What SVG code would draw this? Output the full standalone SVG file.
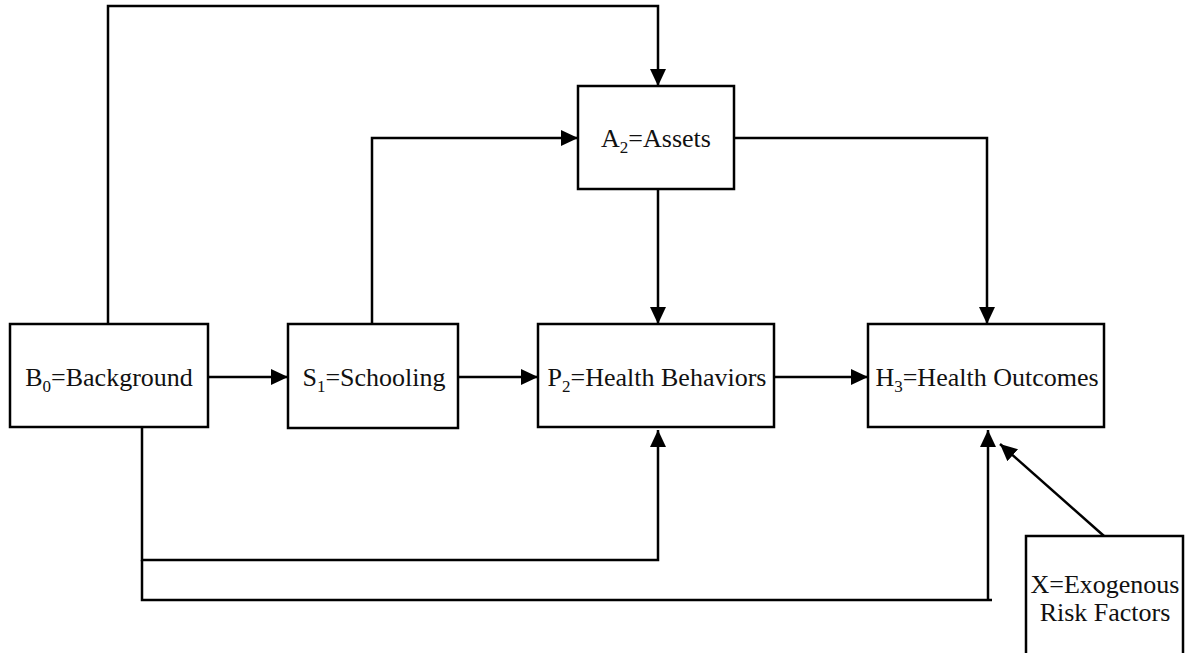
<svg xmlns="http://www.w3.org/2000/svg" width="1186" height="653" viewBox="0 0 1186 653">
<style>
.box{fill:#fff;stroke:#000;stroke-width:2.5}
.ln{fill:none;stroke:#000;stroke-width:2.5}
.t{font-family:"Liberation Serif","Times New Roman",serif;font-size:26px;fill:#111;text-anchor:middle}
.s{font-size:17px}
</style>
<defs>
<marker id="ah" markerUnits="userSpaceOnUse" markerWidth="18" markerHeight="18" viewBox="0 0 18 18" refX="17" refY="9" orient="auto">
<path d="M0,1 L17,9 L0,17 Z" fill="#000"/>
</marker>
</defs>
<g id="connectors">
<path class="ln" d="M108,324 V6 H658 V86" marker-end="url(#ah)"/>
<path class="ln" d="M372,324 V138 H578" marker-end="url(#ah)"/>
<path class="ln" d="M734,138 H987 V324" marker-end="url(#ah)"/>
<path class="ln" d="M658,189 V324" marker-end="url(#ah)"/>
<path class="ln" d="M208,377 H288" marker-end="url(#ah)"/>
<path class="ln" d="M458,377 H538" marker-end="url(#ah)"/>
<path class="ln" d="M774,377 H868" marker-end="url(#ah)"/>
<path class="ln" d="M142,427 V560 H658 V430" marker-end="url(#ah)"/>
<path class="ln" d="M142,560 V600 H992"/>
<path class="ln" d="M988,601 V430" marker-end="url(#ah)"/>
<path class="ln" d="M1104,536 L1000,444" marker-end="url(#ah)"/>
</g>
<g id="B0">
<rect class="box" x="10" y="324" width="198" height="103"/>
<text class="t" x="109" y="386">B<tspan class="s" dy="6">0</tspan><tspan dy="-6">=Background</tspan></text>
</g>
<g id="S1">
<rect class="box" x="288" y="324" width="170" height="104"/>
<text class="t" x="374" y="386">S<tspan class="s" dy="6">1</tspan><tspan dy="-6">=Schooling</tspan></text>
</g>
<g id="A2">
<rect class="box" x="578" y="86" width="156" height="103"/>
<text class="t" x="656" y="147">A<tspan class="s" dy="6">2</tspan><tspan dy="-6">=Assets</tspan></text>
</g>
<g id="P2">
<rect class="box" x="538" y="324" width="236" height="103"/>
<text class="t" x="657" y="386">P<tspan class="s" dy="6">2</tspan><tspan dy="-6">=Health Behaviors</tspan></text>
</g>
<g id="H3">
<rect class="box" x="868" y="324" width="236" height="103"/>
<text class="t" x="987" y="386">H<tspan class="s" dy="6">3</tspan><tspan dy="-6">=Health Outcomes</tspan></text>
</g>
<g id="X">
<rect class="box" x="1026" y="536" width="157" height="130"/>
<text class="t" x="1105" y="593">X=Exogenous</text>
<text class="t" x="1105" y="621">Risk Factors</text>
</g>
</svg>
